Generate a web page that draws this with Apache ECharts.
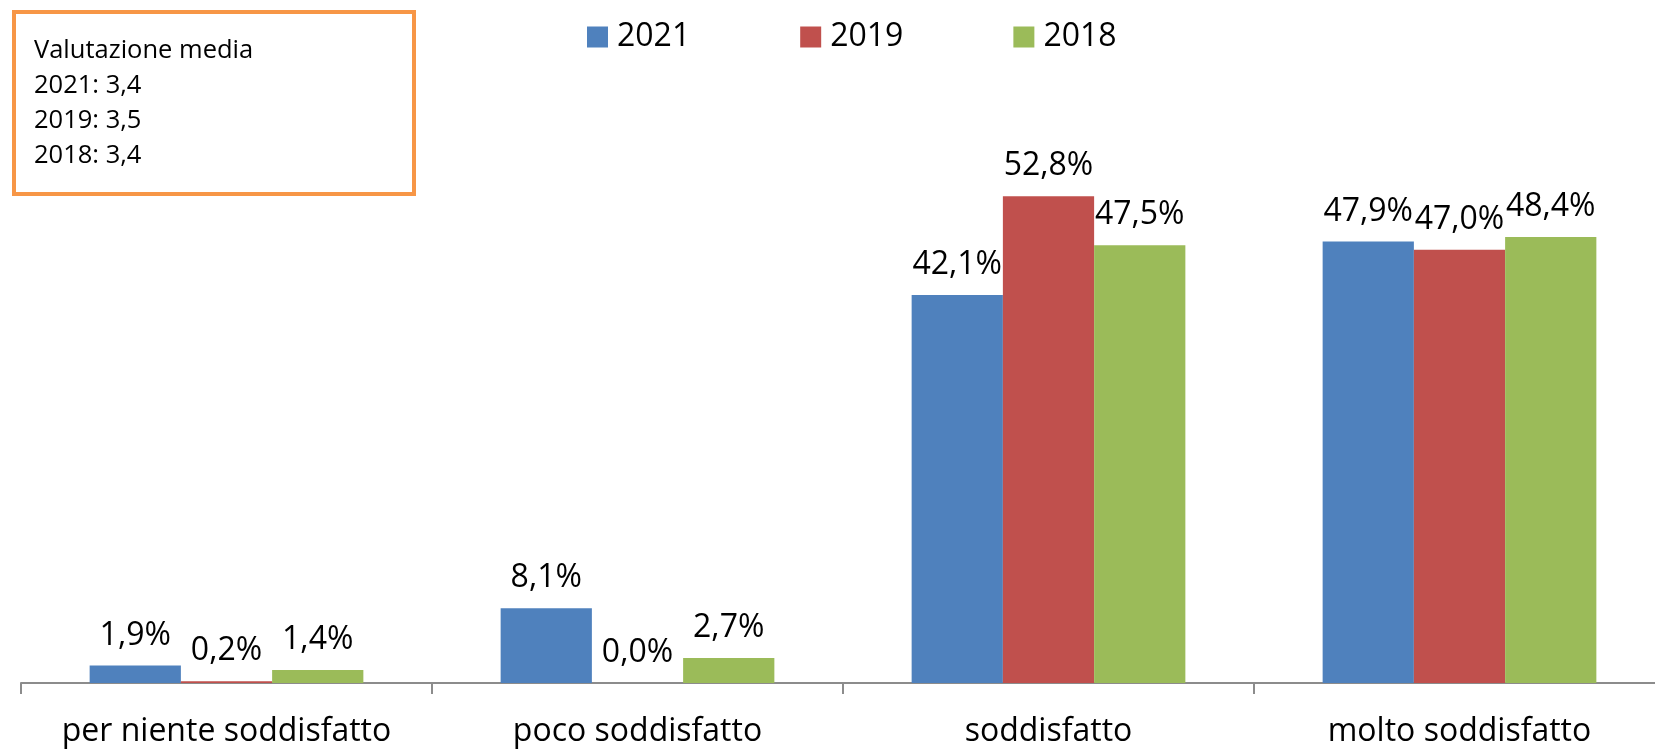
<!DOCTYPE html>
<html><head><meta charset="utf-8">
<script src="https://cdn.jsdelivr.net/npm/echarts@6/dist/echarts.min.js"></script>
<style>html,body{margin:0;padding:0;background:#fff}#c{width:1655px;height:750px}</style>
</head><body><div id="c"></div>
<script>
const categories = ['per niente soddisfatto', 'poco soddisfatto', 'soddisfatto', 'molto soddisfatto'];
const seriesNames = ['2021', '2019', '2018'];
const values2021 = [1.9, 8.1, 42.1, 47.9];
const values2019 = [0.2, 0.0, 52.8, 47.0];
const values2018 = [1.4, 2.7, 47.5, 48.4];
const boxLines = ['Valutazione media', '2021: 3,4', '2019: 3,5', '2018: 3,4'];
const colors = ['#4F81BD', '#C0504D', '#9BBB59'];
const FONT = '"Open Sans", sans-serif';

const chart = echarts.init(document.getElementById('c'));
const data = [values2021, values2019, values2018];
chart.setOption({
  animation: false,
  textStyle: { fontFamily: FONT },
  legend: {
    left: 582, top: 16, itemWidth: 21, itemHeight: 21, itemGap: 110,
    icon: 'rect',
    textStyle: { fontSize: 32, color: '#000', fontFamily: FONT, lineHeight: 32, padding: [0, 0, 0, 4] },
    data: seriesNames
  },
  grid: { left: 21, width: 1644, top: 130, bottom: 67, containLabel: false, outerBoundsMode: 'none' },
  xAxis: {
    type: 'category', data: categories,
    axisLine: { show: true, lineStyle: { color: '#8c8c8c', width: 2 } },
    axisTick: { show: true, length: 11, interval: 0, alignWithLabel: false, lineStyle: { color: '#8c8c8c', width: 2 } },
    axisLabel: { interval: 0, fontSize: 32, color: '#000', margin: 33, fontFamily: FONT }
  },
  yAxis: { type: 'value', min: 0, max: 60, show: false, splitLine: { show: false } },
  series: seriesNames.map((n, i) => ({
    name: n, type: 'bar', data: data[i],
    barGap: '0%', barCategoryGap: '33.4%',
    itemStyle: { color: colors[i] },
    label: {
      show: true, position: 'top', distance: 14, fontSize: 32, color: '#000', fontFamily: FONT,
      formatter: p => p.value.toFixed(1).replace('.', ',') + '%'
    }
  })),
  graphic: [
    { type: 'rect', left: 12, top: 10, shape: { width: 400, height: 182 },
      style: { fill: '#fff', stroke: '#F79646', lineWidth: 4 } },
    { type: 'text', left: 34, top: 33,
      style: { text: boxLines.join('\n'), font: '25.5px ' + FONT, lineHeight: 35, fill: '#000' } }
  ]
});
</script></body></html>
